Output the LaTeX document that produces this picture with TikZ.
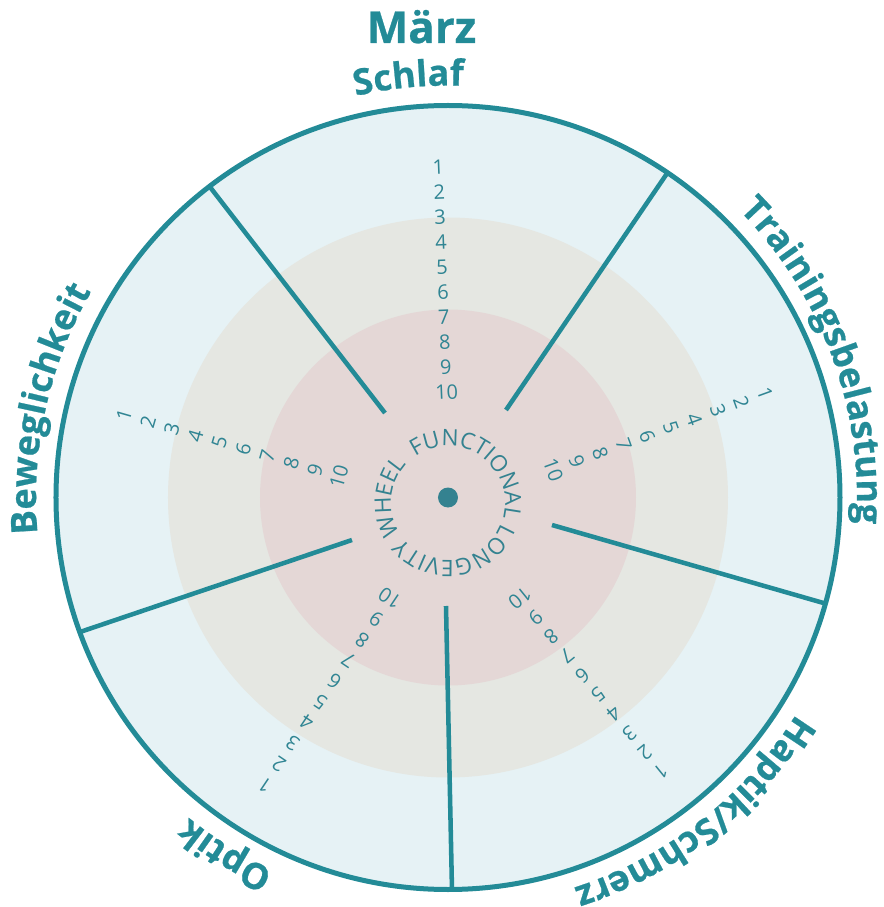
\documentclass[tikz,border=0pt]{standalone}
\usepackage{fontspec}
\setmainfont{Open Sans}
\newfontfamily\heavyfam{Open Sans}[BoldFeatures={FakeBold=0.6}]
\usetikzlibrary{decorations.text,calc}
\definecolor{tealline}{RGB}{35,139,151}
\definecolor{tealtxt}{RGB}{48,133,147}
\definecolor{tealdot}{RGB}{52,130,144}
\definecolor{outerfill}{RGB}{230,242,245}
\definecolor{midfill}{RGB}{229,231,226}
\definecolor{innerfill}{RGB}{228,215,214}
\newcommand\lblfont{\heavyfam\bfseries\fontsize{27}{27}\selectfont}
\newcommand\innerfont{\fontsize{17}{17}\selectfont}
\begin{document}
\begin{tikzpicture}[x=0.75pt,y=0.75pt,
  divider/.style={draw=tealline, line width=3.4pt},
  num/.style={text=tealtxt, font=\fontsize{15}{15}\selectfont, inner sep=0pt},
  lbl/.style={decorate, decoration={text along path, text align=center, text color=tealline, text={|\lblfont|#1}}},
]
\useasboundingbox (-448,-409.5) rectangle (435,497.5);
\coordinate (c) at (0,0);
% rings
\fill[outerfill] (c) circle[radius=392];
\fill[midfill] (c) circle[radius=280];
\fill[innerfill] (c) circle[radius=188];
% dividers
\coordinate (l1i) at (-63,84.5);   \coordinate (l1o) at (-238,310.5);
\coordinate (l2i) at (58,87.5);    \coordinate (l2o) at (220,325.5);
\coordinate (l3i) at (104,-27.5);  \coordinate (l3o) at (379,-106.5);
\coordinate (l4i) at (-2,-108.5);  \coordinate (l4o) at (4,-392.5);
\coordinate (l5i) at (-96,-42.5);  \coordinate (l5o) at (-368,-134.5);
\foreach \k in {1,...,5}{\draw[divider] (l\k i) -- (l\k o);}
\draw[tealline, line width=3.75pt] (c) circle[radius=392];
% centre dot
\fill[tealdot] (c) circle[radius=10];
% scale numbers
\coordinate (t1) at (-9.7,330);    \coordinate (t10) at (-1.3,105.5);
\coordinate (r1) at (317,104);     \coordinate (r10) at (105.3,27.5);
\coordinate (br1) at (212.7,-274.2); \coordinate (br10) at (72,-100.8);
\coordinate (bl1) at (-183,-287.5); \coordinate (bl10) at (-58,-100.8);
\coordinate (l1) at (-324,82.5);   \coordinate (l10) at (-109,20.8);
\foreach \g/\rot in {t/2.3, r/-70.1, br/-140.9, bl/146.2, l/74}{
  \foreach \i in {1,...,10}{
    \node[num, rotate=\rot] (\g-n\i) at ($(\g1)!{(\i-1)/9}!(\g10)$) {\i};
  }
}
% inner curved text
\path[decorate, decoration={text along path, text align=center, text color=tealdot,
  text={|\innerfont|FUNCTIONAL LONGEVITY WHEEL}}]
  ($(0,-5.5)+(131:57)$) arc[start angle=131, end angle=-229, radius=57];
% outer labels
\path[lbl=Schlaf] (125.4:412) arc[start angle=125.4, end angle=65.4, radius=412];
\path[lbl=Trainingsbelastung] (55.5:409) arc[start angle=55.5, end angle=-14.5, radius=409];
\path[lbl=Haptik/Schmerz] (-17:410) arc[start angle=-17, end angle=-87, radius=410];
\path[lbl=Optik] (268:412) arc[start angle=268, end angle=208, radius=412];
\path[lbl=Beweglichkeit] (202.5:412) arc[start angle=202.5, end angle=132.5, radius=412];
% title
\node[anchor=base, text=tealline, font=\heavyfam\bfseries\fontsize{33}{33}\selectfont, inner sep=0pt] (title) at (-26.5,454.5) {März};
\end{tikzpicture}
\end{document}
